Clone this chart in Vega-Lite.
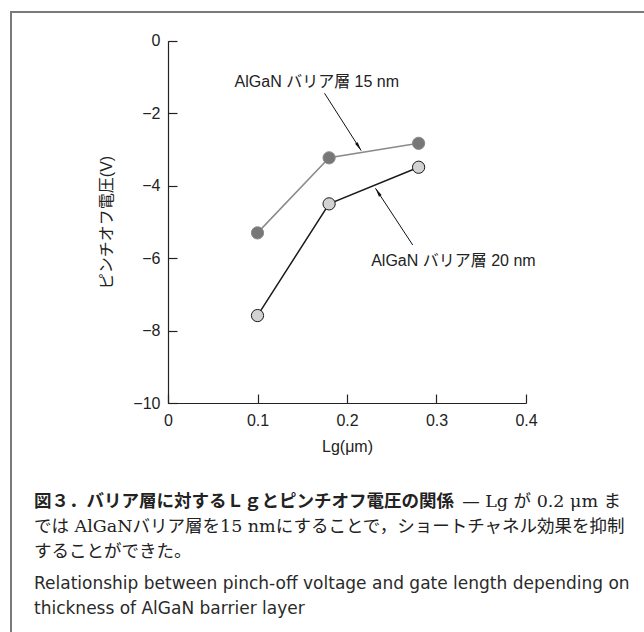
{
  "$schema": "https://vega.github.io/schema/vega-lite/v6.json",
  "autosize": {"type": "none"},
  "padding": {"left": 11, "top": 12, "right": -4, "bottom": -4},
  "width": 637,
  "height": 624,
  "background": "white",
  "config": {
    "view": {"stroke": "#7a7a7a", "strokeWidth": 2},
    "axis": {
      "grid": false,
      "domainColor": "#222",
      "domainWidth": 1.2,
      "tickColor": "#222",
      "tickWidth": 1.2,
      "labelFont": "Liberation Sans",
      "labelFontSize": 16,
      "labelColor": "#222",
      "labelOverlap": false,
      "labelFlush": false,
      "titleFont": "Liberation Sans, Noto Sans CJK JP",
      "titleFontSize": 16,
      "titleFontWeight": "normal",
      "titleColor": "#222"
    }
  },
  "datasets": {
    "series": [
      {"series": "15 nm", "lg": 0.1, "v": -5.3},
      {"series": "15 nm", "lg": 0.18, "v": -3.23},
      {"series": "15 nm", "lg": 0.28, "v": -2.83},
      {"series": "20 nm", "lg": 0.1, "v": -7.58},
      {"series": "20 nm", "lg": 0.18, "v": -4.5},
      {"series": "20 nm", "lg": 0.28, "v": -3.49}
    ],
    "notes": [
      {"series": "15 nm", "label": "AlGaN バリア層 15 nm", "tx": 0.0744, "ty": -1.28, "lg": 0.1749, "v": -1.45, "lg2": 0.2158, "v2": -3.03},
      {"series": "20 nm", "label": "AlGaN バリア層 20 nm", "tx": 0.227, "ty": -6.21, "lg": 0.2734, "v": -5.634, "lg2": 0.2318, "v2": -4.07}
    ],
    "caption": [
      {"row": 0, "col": 0, "part": "bold", "text": "図３．バリア層に対するＬｇとピンチオフ電圧の関係"},
      {"row": 0, "col": 0.722, "part": "serif", "text": "— Lg が 0.2 μm ま"},
      {"row": 1, "col": 0, "part": "serif", "text": "では AlGaNバリア層を15 nmにすることで，ショートチャネル効果を抑制"},
      {"row": 2, "col": 0, "part": "serif", "text": "することができた。"},
      {"row": 3.3, "col": 0, "part": "en", "text": "Relationship between pinch-off voltage and gate length depending on"},
      {"row": 4.3, "col": 0, "part": "en", "text": "thickness of AlGaN barrier layer"}
    ]
  },
  "layer": [
    {
      "layer": [
        {
          "data": {"name": "series"},
          "mark": {"type": "line", "strokeWidth": 1.5},
          "encoding": {
            "x": {
              "field": "lg", "type": "quantitative",
              "scale": {"domain": [0, 0.4], "range": [157, 515]},
              "axis": {
                "title": "Lg(μm)", "values": [0, 0.1, 0.2, 0.3, 0.4], "format": "~g",
                "offset": -233, "tickSize": -9, "labelPadding": 18, "titlePadding": 10
              }
            },
            "y": {
              "field": "v", "type": "quantitative",
              "scale": {"domain": [-10, 0], "range": [391.3, 28.7]},
              "axis": {
                "title": "ピンチオフ電圧(V)", "values": [-10, -8, -6, -4, -2, 0], "format": "d",
                "offset": -157, "tickSize": -9, "labelPadding": 17, "titlePadding": 18
              }
            },
            "stroke": {
              "field": "series", "type": "nominal",
              "scale": {"domain": ["15 nm", "20 nm"], "range": ["#8a8a8a", "#1a1a1a"]},
              "legend": null
            }
          }
        },
        {
          "data": {"name": "series"},
          "mark": {"type": "point", "filled": true, "size": 150, "opacity": 1, "strokeWidth": 1},
          "encoding": {
            "x": {"field": "lg", "type": "quantitative"},
            "y": {"field": "v", "type": "quantitative"},
            "fill": {
              "field": "series", "type": "nominal",
              "scale": {"domain": ["15 nm", "20 nm"], "range": ["#777777", "#d2d2d2"]},
              "legend": null
            },
            "stroke": {"field": "series", "type": "nominal", "legend": null}
          }
        },
        {
          "data": {"name": "notes"},
          "mark": {"type": "rule", "stroke": "#111", "strokeWidth": 1},
          "encoding": {
            "x": {"field": "lg", "type": "quantitative"},
            "y": {"field": "v", "type": "quantitative"},
            "x2": {"field": "lg2"},
            "y2": {"field": "v2"}
          }
        },
        {
          "data": {"name": "notes"},
          "transform": [{"filter": "datum.series === '15 nm'"}],
          "mark": {"type": "point", "shape": "M0,0L-0.35,2L0.35,2Z", "filled": true, "color": "#111", "opacity": 1, "size": 80, "angle": 147.5},
          "encoding": {
            "x": {"field": "lg2", "type": "quantitative"},
            "y": {"field": "v2", "type": "quantitative"}
          }
        },
        {
          "data": {"name": "notes"},
          "transform": [{"filter": "datum.series === '20 nm'"}],
          "mark": {"type": "point", "shape": "M0,0L-0.35,2L0.35,2Z", "filled": true, "color": "#111", "opacity": 1, "size": 80, "angle": 327},
          "encoding": {
            "x": {"field": "lg2", "type": "quantitative"},
            "y": {"field": "v2", "type": "quantitative"}
          }
        },
        {
          "data": {"name": "notes"},
          "mark": {"type": "text", "align": "left", "baseline": "alphabetic", "font": "Liberation Sans, Noto Sans CJK JP", "fontSize": 16, "color": "#222"},
          "encoding": {
            "x": {"field": "tx", "type": "quantitative"},
            "y": {"field": "ty", "type": "quantitative"},
            "text": {"field": "label"}
          }
        }
      ]
    },
    {
      "data": {"name": "caption"},
      "encoding": {
        "x": {"field": "col", "type": "quantitative", "scale": {"domain": [0, 1], "range": [23, 616]}, "axis": null},
        "y": {"field": "row", "type": "quantitative", "scale": {"domain": [0, 4.3], "range": [490, 597]}, "axis": null},
        "text": {"field": "text"}
      },
      "layer": [
        {
          "transform": [{"filter": "datum.part === 'bold'"}],
          "mark": {"type": "text", "align": "left", "baseline": "middle", "font": "Noto Sans CJK JP", "fontWeight": "bold", "fontSize": 17.5, "color": "#222"}
        },
        {
          "transform": [{"filter": "datum.part === 'serif'"}],
          "mark": {"type": "text", "align": "left", "baseline": "middle", "font": "DejaVu Serif, Noto Sans CJK JP", "fontSize": 17.5, "color": "#222"}
        },
        {
          "transform": [{"filter": "datum.part === 'en'"}],
          "mark": {"type": "text", "align": "left", "baseline": "middle", "font": "DejaVu Sans", "fontSize": 17, "color": "#2a2a2a"}
        }
      ]
    }
  ],
  "resolve": {"scale": {"x": "independent", "y": "independent"}}
}
